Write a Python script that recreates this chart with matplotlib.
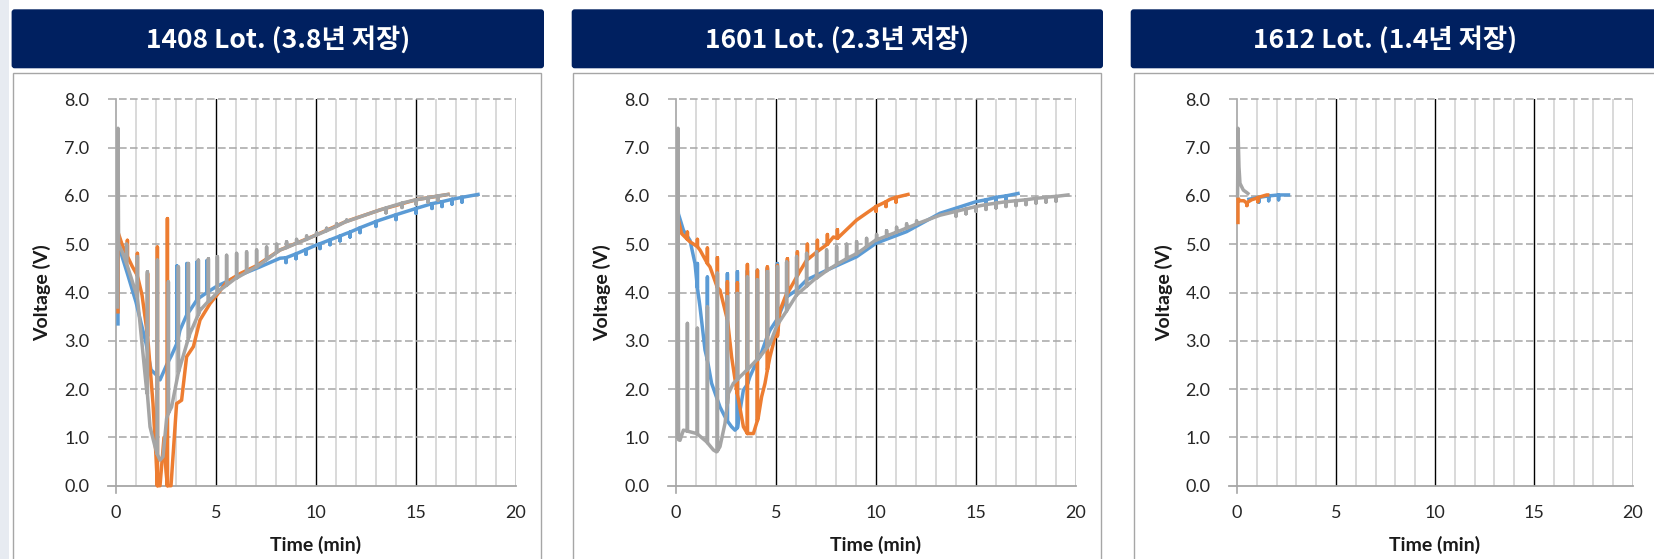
import matplotlib
matplotlib.use('Agg')
import matplotlib.pyplot as plt
from matplotlib.patches import Rectangle, FancyBboxPatch

plt.rcParams['font.family'] = ['Lato', 'Noto Sans CJK KR', 'DejaVu Sans']

# ---------------- data ----------------
titles = ['1408 Lot. (3.8년 저장)', '1601 Lot. (2.3년 저장)', '1612 Lot. (1.4년 저장)']
x_ticks = [0, 5, 10, 15, 20]
y_ticks = [0, 1, 2, 3, 4, 5, 6, 7, 8]

# panel 1 : 1408 Lot
p1_blue_t = [0.1, 0.1, 0.3, 0.6, 1.0, 1.5, 1.75, 2.0, 2.2, 2.53, 2.78, 3.2, 3.7, 4.2, 5.0, 6.2,
             7.2, 8.2, 9.0, 10.0, 11.5, 13.2, 15.0, 16.5, 18.1]
p1_blue_v = [3.35, 5.05, 4.75, 4.35, 3.8, 2.95, 2.4, 2.3, 2.19, 2.5, 2.7, 3.22, 3.63, 3.9, 4.12, 4.36,
             4.53, 4.71, 4.8, 4.98, 5.22, 5.5, 5.74, 5.9, 6.03]
p1_blue_spk_t = [3.05, 3.55, 4.05, 4.55, 8.5, 9.0, 9.5, 10.2, 10.7, 11.2, 11.7, 12.2, 13.0, 14.0,
                 15.0, 15.8, 16.3, 16.8, 17.3]
p1_blue_spk_lo = [2.95, 3.55, 3.85, 4.0, 4.72, 4.8, 4.89, 5.01, 5.09, 5.17, 5.25, 5.34, 5.47, 5.61,
                  5.74, 5.84, 5.88, 5.93, 5.97]
p1_blue_spk_hi = [4.55, 4.6, 4.63, 4.66, 4.62, 4.7, 4.79, 4.91, 4.99, 5.07, 5.15, 5.24, 5.37, 5.51,
                  5.64, 5.74, 5.78, 5.83, 5.87]

p1_orange_t = [0.1, 0.1, 0.3, 0.57, 0.8, 1.07, 1.3, 1.58, 1.85, 2.0, 2.07, 2.2, 2.4, 2.5, 2.57,
               2.75, 3.03, 3.28, 3.53, 3.87, 4.2, 4.7, 5.03, 5.53, 6.2, 7.0, 8.2, 10.0, 11.5, 13.2,
               15.0, 16.6]
p1_orange_v = [3.6, 5.25, 5.0, 4.75, 4.55, 4.35, 3.95, 3.1, 1.7, 0.6, 0.0, 0.0, 1.0, 0.3, 0.0,
               0.0, 1.7, 1.77, 2.67, 2.88, 3.43, 3.77, 3.94, 4.22, 4.39, 4.55, 4.88, 5.19, 5.47, 5.71,
               5.92, 6.03]
p1_orange_spk_t = [0.57, 1.07, 1.58, 2.07, 2.57]
p1_orange_spk_lo = [4.75, 4.35, 3.1, 0.0, 0.0]
p1_orange_spk_hi = [5.08, 4.81, 4.39, 4.94, 5.53]

p1_gray_t = [0.08, 0.1, 0.13, 0.3, 0.53, 0.8, 1.07, 1.2, 1.53, 1.7, 1.95, 2.2, 2.35, 2.53, 2.78,
             3.2, 3.7, 4.2, 4.7, 5.2, 6.0, 7.0, 8.2, 10.0, 11.5, 13.2, 15.0, 16.6]
p1_gray_v = [3.7, 7.4, 5.0, 4.85, 4.6, 4.25, 3.9, 3.36, 1.98, 1.22, 0.81, 0.53, 0.6, 1.39, 1.63,
             2.46, 3.15, 3.63, 3.84, 4.05, 4.3, 4.53, 4.88, 5.19, 5.47, 5.71, 5.92, 6.03]
p1_gray_spk_t = [0.53, 1.07, 1.57, 2.07, 2.62, 3.12, 3.62, 4.12, 4.62, 5.07, 5.53, 6.03, 6.53, 7.03,
                 7.53, 8.03, 8.53, 9.03, 9.53, 10.03, 10.53, 11.03, 11.53, 13.5, 14.3, 15.0, 15.6, 16.1]
p1_gray_spk_lo = [4.6, 3.9, 1.9, 0.65, 1.5, 2.35, 3.05, 3.55, 3.82, 4.0, 4.15, 4.3, 4.42, 4.53,
                  4.68, 4.83, 4.93, 5.02, 5.1, 5.19, 5.28, 5.37, 5.47, 5.75, 5.85, 5.92, 5.96, 6.0]
p1_gray_spk_hi = [5.0, 4.74, 4.43, 4.67, 4.22, 4.53, 4.6, 4.67, 4.7, 4.74, 4.77, 4.81, 4.84, 4.88,
                  4.94, 5.0, 5.05, 5.1, 5.17, 5.24, 5.33, 5.42, 5.5, 5.65, 5.76, 5.83, 5.87, 5.91]

# panel 2 : 1601 Lot
p2_blue_t = [0.1, 0.12, 0.37, 0.7, 0.95, 1.2, 1.45, 1.78, 2.2, 2.53, 2.78, 2.95, 3.1, 3.37, 3.7,
             4.2, 4.7, 5.03, 5.53, 6.03, 6.53, 7.53, 9.03, 10.0, 11.53, 13.2, 15.0, 17.1]
p2_blue_v = [5.8, 5.63, 5.29, 5.08, 4.6, 3.7, 2.81, 2.12, 1.63, 1.36, 1.22, 1.15, 1.3, 1.98, 2.26,
             2.67, 3.22, 3.43, 3.91, 4.05, 4.26, 4.46, 4.74, 5.02, 5.26, 5.64, 5.88, 6.05]
p2_blue_spk_t = [1.07, 1.57, 2.57, 3.07, 3.57, 4.07, 4.57, 5.07, 5.57, 15.5, 16.0, 16.5]
p2_blue_spk_lo = [4.1, 2.6, 1.34, 1.2, 2.1, 2.6, 3.1, 3.45, 3.92, 5.92, 5.97, 6.0]
p2_blue_spk_hi = [4.6, 4.32, 4.39, 4.43, 4.45, 4.46, 4.5, 4.6, 4.65, 5.82, 5.87, 5.9]

p2_orange_t = [0.1, 0.12, 0.28, 0.7, 1.2, 1.7, 2.2, 2.53, 2.78, 3.03, 3.37, 3.62, 3.87, 4.12, 4.28,
               4.45, 4.7, 4.95, 5.2, 5.53, 6.03, 6.53, 7.87, 9.03, 10.0, 10.7, 11.6]
p2_orange_v = [5.57, 5.5, 5.22, 5.05, 4.88, 4.53, 4.05, 3.5, 2.67, 1.98, 1.22, 1.08, 1.08, 1.43,
               1.84, 2.12, 2.67, 3.08, 3.63, 3.98, 4.32, 4.67, 5.15, 5.5, 5.78, 5.93, 6.03]
p2_orange_spk_t = [0.57, 1.07, 1.57, 2.07, 2.57, 3.07, 3.57, 4.07, 4.57, 5.07, 5.57, 6.07, 6.57,
                   7.07, 7.57, 8.07, 10.0, 10.5, 11.0]
p2_orange_spk_lo = [5.1, 4.95, 4.6, 4.1, 3.45, 1.9, 1.08, 1.35, 2.4, 3.1, 3.98, 4.35, 4.68, 4.85,
                    5.0, 5.12, 5.78, 5.88, 5.97]
p2_orange_spk_hi = [5.25, 5.1, 4.92, 4.72, 4.22, 4.2, 4.58, 4.46, 4.53, 4.56, 4.7, 4.84, 5.0, 5.08,
                    5.2, 5.3, 5.68, 5.78, 5.87]

p2_gray_t = [0.08, 0.1, 0.13, 0.2, 0.37, 1.03, 1.53, 1.87, 2.03, 2.2, 2.45, 2.62, 2.87, 3.53, 4.2,
             4.7, 5.03, 5.45, 6.03, 7.0, 8.2, 9.0, 10.0, 11.5, 13.2, 15.0, 16.5, 18.7, 19.6]
p2_gray_v = [1.0, 7.4, 0.95, 0.94, 1.15, 1.08, 0.91, 0.74, 0.7, 0.81, 1.29, 1.91, 2.12, 2.39, 2.67,
             2.94, 3.3, 3.57, 3.95, 4.3, 4.62, 4.8, 5.09, 5.33, 5.6, 5.78, 5.88, 5.98, 6.02]
p2_gray_spk_t = [0.57, 1.07, 1.57, 2.07, 2.57, 3.07, 3.57, 4.07, 4.57, 5.07, 5.53, 6.03, 6.53, 7.03,
                 7.53, 8.03, 8.53, 9.03, 9.53, 10.03, 10.53, 11.03, 11.53, 12.03,
                 14.0, 14.5, 15.0, 15.5, 16.0, 16.5, 17.0, 17.5, 18.0, 18.5, 19.0]
p2_gray_spk_lo = [1.13, 1.07, 0.89, 0.72, 1.7, 2.2, 2.4, 2.62, 2.87, 3.33, 3.62, 3.95, 4.13, 4.3,
                  4.45, 4.58, 4.7, 4.8, 4.95, 5.09, 5.17, 5.25, 5.33, 5.42,
                  5.68, 5.73, 5.78, 5.82, 5.85, 5.88, 5.9, 5.92, 5.95, 5.97, 5.99]
p2_gray_spk_hi = [3.36, 3.26, 3.7, 4.4, 3.91, 3.98, 4.32, 4.26, 4.43, 4.53, 4.63, 4.74, 4.81, 4.84,
                  4.88, 4.95, 5.0, 5.05, 5.12, 5.2, 5.28, 5.35, 5.42, 5.48,
                  5.58, 5.63, 5.68, 5.72, 5.75, 5.78, 5.8, 5.82, 5.85, 5.87, 5.89]

# panel 3 : 1612 Lot
p3_blue_t = [0.6, 1.08, 1.6, 2.1, 2.6]
p3_blue_v = [5.93, 5.97, 6.0, 6.02, 6.02]
p3_blue_spk_t = [1.1, 1.6, 2.1]
p3_blue_spk_lo = [5.97, 6.0, 6.02]
p3_blue_spk_hi = [5.87, 5.9, 5.92]

p3_orange_t = [0.05, 0.05, 0.15, 0.35, 0.49, 0.74, 1.08, 1.5, 1.55]
p3_orange_v = [5.45, 5.95, 5.9, 5.9, 5.85, 5.92, 5.97, 6.02, 6.02]
p3_orange_spk_t = [0.5, 1.05]
p3_orange_spk_lo = [5.86, 5.96]
p3_orange_spk_hi = [5.8, 5.88]

p3_gray_t = [0.03, 0.05, 0.1, 0.15, 0.32, 0.49, 0.55]
p3_gray_v = [6.0, 7.4, 6.6, 6.26, 6.12, 6.07, 6.05]

# ---------------- styling ----------------
c_blue = '#5B9BD5'
c_orange = '#ED7D31'
c_gray = '#A5A5A5'
navy = '#002060'
W, H = 1654, 559


def series_path(bt, bv, st=(), slo=(), shi=()):
    # base curve plus vertical pulse spikes, ordered by time
    pts = list(zip(bt, bv))
    for t, lo, hi in zip(st, slo, shi):
        pts += [(t, lo), (t, hi), (t, lo)]
    pts.sort(key=lambda p: p[0])
    return [p[0] for p in pts], [p[1] for p in pts]


panels = [
    dict(box=(13.3, 541.0), head=(11.6, 544.0), title_x=278, ax=(116, 516),
         blue=series_path(p1_blue_t, p1_blue_v, p1_blue_spk_t, p1_blue_spk_lo, p1_blue_spk_hi),
         orange=series_path(p1_orange_t, p1_orange_v, p1_orange_spk_t, p1_orange_spk_lo, p1_orange_spk_hi),
         gray=series_path(p1_gray_t, p1_gray_v, p1_gray_spk_t, p1_gray_spk_lo, p1_gray_spk_hi)),
    dict(box=(572.7, 1100.7), head=(571.7, 1103.0), title_x=837, ax=(676, 1076),
         blue=series_path(p2_blue_t, p2_blue_v, p2_blue_spk_t, p2_blue_spk_lo, p2_blue_spk_hi),
         orange=series_path(p2_orange_t, p2_orange_v, p2_orange_spk_t, p2_orange_spk_lo, p2_orange_spk_hi),
         gray=series_path(p2_gray_t, p2_gray_v, p2_gray_spk_t, p2_gray_spk_lo, p2_gray_spk_hi)),
    dict(box=(1134.0, 1680.0), head=(1130.7, 1690.0), title_x=1385, ax=(1237, 1633),
         blue=series_path(p3_blue_t, p3_blue_v, p3_blue_spk_t, p3_blue_spk_lo, p3_blue_spk_hi),
         orange=series_path(p3_orange_t, p3_orange_v, p3_orange_spk_t, p3_orange_spk_lo, p3_orange_spk_hi),
         gray=series_path(p3_gray_t, p3_gray_v)),
]

fig = plt.figure(figsize=(W / 100, H / 100), dpi=100)
fig.patch.set_facecolor('white')

# background layer in pixel coordinates
bg = fig.add_axes([0, 0, 1, 1])
bg.set_xlim(0, W)
bg.set_ylim(H, 0)
bg.axis('off')
bg.add_patch(Rectangle((0, 0), 9, H, facecolor='#e7ebf1', edgecolor='none'))

ax_top, ax_bot = 99.3, 485.7

for i, p in enumerate(panels):
    x0, x1 = p['box']
    bg.add_patch(Rectangle((x0, 72.7), x1 - x0, 520, facecolor='white',
                           edgecolor='#a6a6a6', linewidth=1.0))
    h0, h1 = p['head']
    r = 3
    bg.add_patch(FancyBboxPatch((h0 + r, 9.3 + r), h1 - h0 - 2 * r, 59 - 2 * r,
                                boxstyle=f'round,pad={r},rounding_size={r}',
                                facecolor=navy, edgecolor='none'))
    bg.text(p['title_x'], 40, titles[i], color='white', fontsize=19,
            fontweight='bold', family=['Noto Sans CJK KR', 'DejaVu Sans'],
            ha='center', va='center')

    a0, a1 = p['ax']
    ax = fig.add_axes([a0 / W, 1 - ax_bot / H, (a1 - a0) / W, (ax_bot - ax_top) / H])
    ax.patch.set_alpha(0)
    ax.set_xlim(0, 20)
    ax.set_ylim(0, 8)
    for s in ax.spines.values():
        s.set_visible(False)

    # grid: light minor verticals, black every 5 min, dashed horizontals
    for t in range(0, 21):
        if t == 0:
            ax.axvline(t, ymin=-0.018, ymax=1, color='#a6a6a6', lw=1.2, clip_on=False, zorder=1)
        elif t % 5 == 0:
            ax.axvline(t, color='black', lw=1.0, zorder=1)
        else:
            ax.axvline(t, color='#d0d0d0', lw=1.1, zorder=1)
    for v in y_ticks:
        if v == 0:
            ax.axhline(v, xmin=-0.02, xmax=1, color='#a6a6a6', lw=1.3, clip_on=False, zorder=1)
        else:
            ax.axhline(v, xmin=-0.02, xmax=1, color='#a6a6a6', lw=1.1, dashes=(5, 2.2),
                       clip_on=False, zorder=1)

    ax.plot(*p['blue'], color=c_blue, lw=2.5, solid_joinstyle='round', zorder=3, clip_on=False)
    ax.plot(*p['orange'], color=c_orange, lw=2.5, solid_joinstyle='round', zorder=4, clip_on=False)
    ax.plot(*p['gray'], color=c_gray, lw=2.5, solid_joinstyle='round', zorder=5, clip_on=False)

    ax.set_xticks(x_ticks)
    ax.set_yticks(y_ticks)
    ax.set_xticklabels([str(t) for t in x_ticks])
    ax.set_yticklabels([f'{v:.1f}' for v in y_ticks])
    ax.tick_params(axis='y', length=0, pad=19, labelsize=13, labelcolor='#262626')
    ax.tick_params(axis='x', length=0, pad=14, labelsize=13, labelcolor='#262626')

    ax.text(-0.185, 0.5, 'Voltage (V)', transform=ax.transAxes, rotation=90, ha='center',
            va='center', fontsize=14, fontweight='bold', color='#1a1a1a')
    ax.text(0.5, -0.153, 'Time (min)', transform=ax.transAxes, ha='center', va='center',
            fontsize=14, fontweight='bold', color='#1a1a1a')

fig.savefig('out.png', dpi=100)
